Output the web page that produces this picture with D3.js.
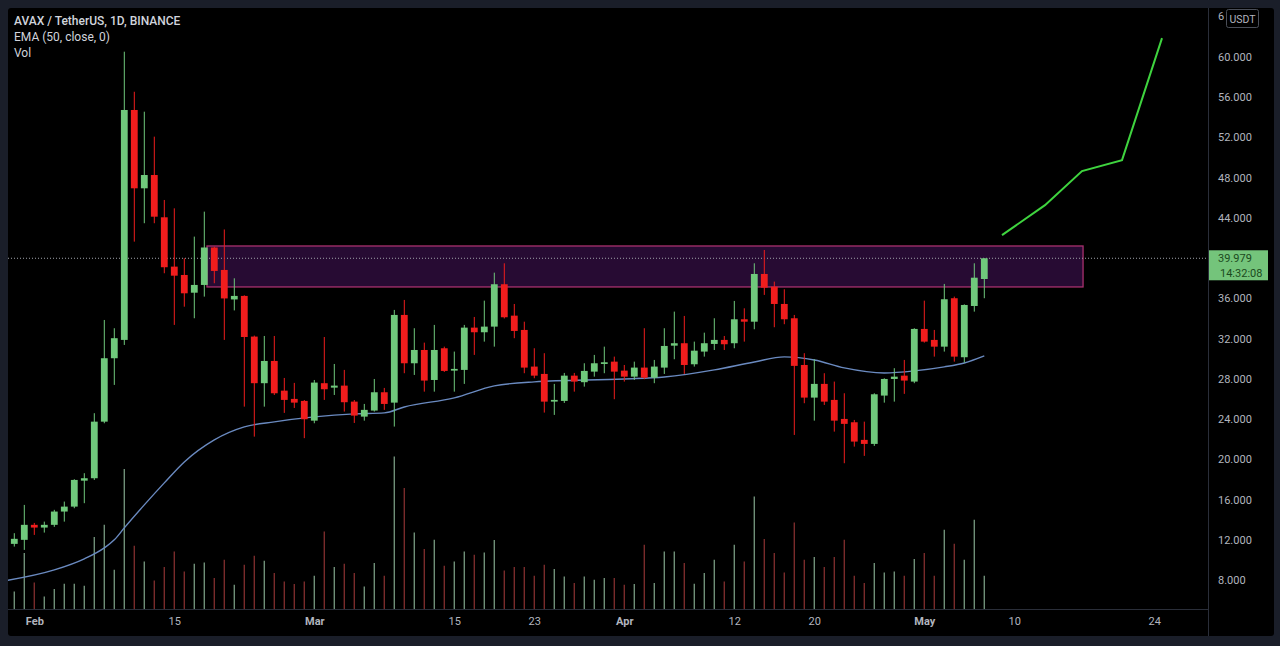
<!DOCTYPE html>
<html>
<head>
<meta charset="utf-8">
<script src="https://cdn.jsdelivr.net/npm/d3@7"></script>
<style>
  html, body { margin: 0; padding: 0; background: #1a1e29; }
  svg { display: block; }
</style>
</head>
<body>
<svg id="chart" width="1280" height="646"></svg>
<script>
// daily candles, AVAX/USDT
const dates = [
  '2021-01-29','2021-01-30','2021-01-31',
  '2021-02-01','2021-02-02','2021-02-03','2021-02-04','2021-02-05','2021-02-06','2021-02-07','2021-02-08','2021-02-09','2021-02-10',
  '2021-02-11','2021-02-12','2021-02-13','2021-02-14','2021-02-15','2021-02-16','2021-02-17','2021-02-18','2021-02-19','2021-02-20',
  '2021-02-21','2021-02-22','2021-02-23','2021-02-24','2021-02-25','2021-02-26','2021-02-27','2021-02-28',
  '2021-03-01','2021-03-02','2021-03-03','2021-03-04','2021-03-05','2021-03-06','2021-03-07','2021-03-08','2021-03-09','2021-03-10',
  '2021-03-11','2021-03-12','2021-03-13','2021-03-14','2021-03-15','2021-03-16','2021-03-17','2021-03-18','2021-03-19','2021-03-20',
  '2021-03-21','2021-03-22','2021-03-23','2021-03-24','2021-03-25','2021-03-26','2021-03-27','2021-03-28','2021-03-29','2021-03-30','2021-03-31',
  '2021-04-01','2021-04-02','2021-04-03','2021-04-04','2021-04-05','2021-04-06','2021-04-07','2021-04-08','2021-04-09','2021-04-10',
  '2021-04-11','2021-04-12','2021-04-13','2021-04-14','2021-04-15','2021-04-16','2021-04-17','2021-04-18','2021-04-19','2021-04-20',
  '2021-04-21','2021-04-22','2021-04-23','2021-04-24','2021-04-25','2021-04-26','2021-04-27','2021-04-28','2021-04-29','2021-04-30',
  '2021-05-01','2021-05-02','2021-05-03','2021-05-04','2021-05-05','2021-05-06','2021-05-07'
];
const opens = [
  12.00,11.61,12.01,
  13.50,13.23,13.50,14.82,15.31,17.89,18.13,23.75,30.05,31.87,
  54.71,46.93,48.25,44.05,39.15,38.32,36.56,37.33,41.05,38.82,
  35.89,36.24,32.20,27.57,29.78,26.83,26.01,25.81,
  23.85,27.57,27.13,27.33,25.74,24.25,24.85,26.67,25.64,34.35,
  29.55,30.87,27.89,31.04,28.82,28.89,33.09,32.63,33.19,37.40,
  34.28,32.86,29.22,28.49,25.74,25.81,28.32,27.67,28.72,29.48,29.71,
  28.82,28.22,29.12,28.12,29.12,31.30,31.54,29.45,30.71,31.47,
  31.87,31.54,33.92,33.68,38.42,37.16,35.44,34.02,29.38,26.14,
  27.50,25.91,24.02,23.69,21.94,21.54,26.34,27.99,28.32,27.73,
  32.96,31.87,31.20,36.01,30.15,35.24,37.92
];
const highs = [
  12.20,12.67,15.48,
  13.69,13.82,14.99,15.81,18.03,18.63,24.59,33.85,33.03,60.50,
  56.52,54.54,52.06,45.77,44.94,39.98,42.13,44.61,41.13,42.84,
  37.99,36.30,32.30,32.26,32.26,28.09,27.60,25.90,
  27.89,32.16,29.48,28.89,25.90,25.51,27.99,27.10,34.85,35.84,
  33.03,31.60,33.36,31.20,30.71,33.36,34.15,35.77,38.55,39.48,
  35.44,33.68,31.04,30.55,27.50,28.59,28.59,29.55,30.38,31.20,30.21,
  29.38,29.71,33.03,29.88,33.03,34.68,34.25,31.70,32.59,34.02,
  32.26,35.74,35.01,39.48,40.80,37.66,36.90,34.35,30.55,29.95,
  28.56,27.73,26.57,23.92,23.75,26.57,28.06,29.06,29.88,33.03,
  35.77,32.86,37.43,36.17,35.40,39.48,39.98
];
const lows = [
  11.60,11.34,11.01,
  12.50,12.73,13.30,13.82,15.15,15.65,17.96,23.59,27.40,31.37,
  41.63,43.46,43.46,38.49,33.36,35.17,34.02,36.17,37.50,31.87,
  34.80,25.24,22.26,25.24,26.40,24.62,25.11,22.11,
  23.59,25.91,26.40,24.75,23.62,23.85,24.75,24.92,23.26,28.56,
  28.39,26.73,26.73,28.69,26.73,27.50,30.38,31.70,31.20,34.00,
  32.04,28.56,28.06,24.65,24.42,25.61,26.73,27.23,28.22,28.56,25.98,
  27.73,27.89,27.96,27.57,28.49,29.95,28.49,29.22,30.21,30.87,
  30.87,31.04,31.70,32.93,36.34,33.13,33.43,22.43,25.58,23.85,
  25.41,22.76,19.62,21.27,20.35,21.34,25.64,25.74,26.51,27.57,
  31.60,30.21,30.71,29.71,29.61,34.68,36.01
];
const closes = [
  11.75,12.11,13.50,
  13.23,13.50,14.82,15.31,17.96,18.13,23.75,30.05,32.04,54.71,
  46.93,48.25,44.11,39.09,38.25,36.50,37.33,41.05,38.72,35.99,
  36.24,32.16,27.57,29.78,26.57,25.91,25.64,23.99,
  27.63,26.97,27.33,25.68,24.35,24.92,26.67,25.51,34.35,29.55,
  30.87,27.83,30.87,28.79,28.99,33.09,32.63,33.19,37.40,34.12,
  32.76,29.12,28.32,25.74,25.91,28.32,27.73,28.79,29.55,29.65,28.72,
  28.22,29.12,28.12,29.22,31.27,31.54,29.38,30.80,31.54,31.87,
  31.44,33.92,33.68,38.42,37.06,35.44,33.92,29.29,26.14,27.50,
  25.74,23.85,23.53,21.77,21.54,26.47,27.99,28.22,27.83,32.96,
  31.70,31.20,35.91,30.21,35.34,38.05,39.979
];
// volume, millions AVAX
const volumes = [
  1.0,1.76,5.6,
  2.66,1.26,2.0,2.53,2.53,2.33,7.2,8.43,3.93,14.0,
  6.33,4.76,2.86,4.2,5.76,3.76,4.53,4.66,3.1,4.93,
  2.43,4.43,5.33,4.83,3.6,2.76,2.5,2.76,
  3.33,7.76,4.2,4.53,3.6,2.26,4.6,3.33,15.26,12.1,
  7.66,6.0,6.93,4.33,4.76,5.76,5.43,5.66,6.9,3.86,
  4.2,4.2,3.33,4.43,4.0,3.26,2.6,3.26,2.93,3.1,3.1,
  2.43,2.5,6.43,2.6,5.76,5.76,4.6,2.53,3.6,4.93,
  2.76,6.43,4.76,11.26,7.0,5.6,3.66,8.66,4.93,5.2,
  4.2,5.2,6.93,3.33,2.6,4.6,3.66,3.76,3.33,5.0,
  5.6,3.33,7.93,6.53,4.93,8.93,3.33
];

// EMA (50, close)
const emaDates = ['2021-01-29','2021-02-03','2021-02-06','2021-02-08','2021-02-09','2021-02-10','2021-02-12','2021-02-14',
  '2021-02-16','2021-02-19','2021-02-22','2021-02-25','2021-03-01','2021-03-05','2021-03-08','2021-03-10','2021-03-15',
  '2021-03-19','2021-03-23','2021-04-01','2021-04-05','2021-04-10','2021-04-14','2021-04-17','2021-04-20','2021-04-23',
  '2021-04-27','2021-04-30','2021-05-03','2021-05-05','2021-05-07'];
const emaValues = [7.93,9.02,10.12,11.21,12.01,13.20,15.48,17.67,
  19.75,21.94,23.23,23.73,24.22,24.52,24.62,25.21,26.11,
  27.30,27.70,27.99,28.19,28.89,29.68,30.18,29.88,29.09,
  28.59,28.79,29.19,29.58,30.28];

// resistance zone and projected path
const zoneTimes = ['2021-02-18T06:30Z', '2021-05-16T21:00Z'];
const zonePrices = [37.13, 41.20];
const pathTimes = ['2021-05-08T18:30Z','2021-05-13T01:40Z','2021-05-16T18:30Z','2021-05-20T18:30Z','2021-05-24T18:30Z'];
const pathPrices = [42.28, 45.26, 48.64, 49.73, 61.85];

const lastPrice = 39.979;
const countdown = '14:32:08';

const timeRange = ['2021-01-29T08:53Z', '2021-05-29T08:53Z'];
const priceRange = [5.14, 64.84];
const priceTicks = [8, 12, 16, 20, 24, 28, 32, 36, 40, 44, 48, 52, 56, 60, 64];
const timeTicks = ['2021-02-01','2021-02-15','2021-03-01','2021-03-15','2021-03-23','2021-04-01',
  '2021-04-12','2021-04-20','2021-05-01','2021-05-10','2021-05-24'];
const timeTickLabels = ['Feb','15','Mar','15','23','Apr','12','20','May','10','24'];
const volumeMax = 16;

const paneLeft = 8;
const paneTop = 8;
const paneRight = 1208;
const paneBottom = 609;
const green = '#70c97c';
const red = '#f01d1d';

const parse = (s) => new Date(s.length === 10 ? s + 'T00:00Z' : s);

window.onload = function() {
     const candles = dates.map((d, i) => ({
          date: parse(d), open: opens[i], high: highs[i], low: lows[i], close: closes[i], volume: volumes[i]
     }));

     const x = d3.scaleUtc()
                 .domain(timeRange.map(parse))
                 .range([paneLeft, paneRight]);
     const y = d3.scaleLinear()
                 .domain(priceRange)
                 .range([paneBottom, paneTop]);
     const yVol = d3.scaleLinear()
                 .domain([0, volumeMax])
                 .range([paneBottom, paneBottom - 160]);

     const dayWidth = x(parse('2021-02-02')) - x(parse('2021-02-01'));
     const bodyWidth = dayWidth * 0.68;

     const svg = d3.select('#chart');

     // chart frame
     svg.append('rect')
          .attr('x', 8).attr('y', 8)
          .attr('width', 1266).attr('height', 628)
          .attr('rx', 3)
          .attr('fill', '#000');

     svg.append('defs').append('clipPath').attr('id', 'pane')
          .append('rect')
               .attr('x', paneLeft).attr('y', paneTop)
               .attr('width', paneRight - paneLeft).attr('height', paneBottom - paneTop);

     const pane = svg.append('g').attr('clip-path', 'url(#pane)');

     // volume
     pane.append('g').selectAll('line')
          .data(candles)
          .enter()
               .append('line')
                    .attr('x1', (d) => x(d.date))
                    .attr('x2', (d) => x(d.date))
                    .attr('y1', yVol(0))
                    .attr('y2', (d) => yVol(d.volume))
                    .attr('stroke', (d) => d.close >= d.open ? '#6f8f78' : '#7a2c2c')
                    .attr('stroke-width', 1.4);

     // resistance zone
     pane.append('rect')
          .attr('x', x(parse(zoneTimes[0])))
          .attr('y', y(zonePrices[1]))
          .attr('width', x(parse(zoneTimes[1])) - x(parse(zoneTimes[0])))
          .attr('height', y(zonePrices[0]) - y(zonePrices[1]))
          .attr('fill', '#270b33')
          .attr('stroke', '#a8306e')
          .attr('stroke-width', 1.3);

     // last price line
     pane.append('line')
          .attr('x1', paneLeft).attr('x2', paneRight)
          .attr('y1', y(lastPrice)).attr('y2', y(lastPrice))
          .attr('stroke', '#a0a3ab')
          .attr('stroke-width', 1)
          .attr('stroke-dasharray', '1,2');

     // ema
     const emaLine = d3.line()
          .x((d) => x(d.date))
          .y((d) => y(d.value))
          .curve(d3.curveMonotoneX);
     pane.append('path')
          .datum(emaDates.map((d, i) => ({ date: parse(d), value: emaValues[i] })))
          .attr('d', emaLine)
          .attr('fill', 'none')
          .attr('stroke', '#6a8ac0')
          .attr('stroke-width', 1.4);

     // candles
     const candle = pane.append('g').selectAll('g')
          .data(candles)
          .enter()
               .append('g')
                    .attr('fill', (d) => d.close >= d.open ? green : red)
                    .attr('stroke', (d) => d.close >= d.open ? green : red);
     candle.append('line')
          .attr('x1', (d) => x(d.date))
          .attr('x2', (d) => x(d.date))
          .attr('y1', (d) => y(d.high))
          .attr('y2', (d) => y(d.low))
          .attr('stroke-width', 1);
     candle.append('rect')
          .attr('x', (d) => x(d.date) - bodyWidth / 2)
          .attr('y', (d) => y(Math.max(d.open, d.close)))
          .attr('width', bodyWidth)
          .attr('height', (d) => Math.max(1, Math.abs(y(d.open) - y(d.close))))
          .attr('stroke', 'none');

     // projected path
     pane.append('path')
          .datum(pathTimes.map((d, i) => ({ date: parse(d), value: pathPrices[i] })))
          .attr('d', d3.line().x((d) => x(d.date)).y((d) => y(d.value)))
          .attr('fill', 'none')
          .attr('stroke', '#3fd43f')
          .attr('stroke-width', 2);

     // separators
     svg.append('line')
          .attr('x1', paneRight + 0.5).attr('x2', paneRight + 0.5)
          .attr('y1', 8).attr('y2', 636)
          .attr('stroke', '#2a2e39');
     svg.append('line')
          .attr('x1', 8).attr('x2', paneRight)
          .attr('y1', paneBottom + 0.5).attr('y2', paneBottom + 0.5)
          .attr('stroke', '#2a2e39');

     // price axis; the top label is hidden behind the USDT badge except its first digit
     const topTick = d3.max(priceTicks);
     const yAxis = svg.append('g')
          .attr('transform', `translate(${paneRight}, 0)`)
          .call(d3.axisRight(y)
               .tickValues(priceTicks)
               .tickFormat((d) => d === topTick ? String(d).charAt(0) : d3.format('.3f')(d))
               .tickSize(0)
               .tickPadding(10));
     yAxis.select('.domain').remove();
     yAxis.selectAll('text')
          .attr('fill', '#b2b5be')
          .attr('font-family', 'Roboto, sans-serif')
          .attr('font-size', 11);

     // time axis
     const xAxis = svg.append('g')
          .attr('transform', `translate(0, ${paneBottom})`)
          .call(d3.axisBottom(x)
               .tickValues(timeTicks.map(parse))
               .tickFormat((d, i) => timeTickLabels[i])
               .tickSize(0)
               .tickPadding(8));
     xAxis.select('.domain').remove();
     xAxis.selectAll('text')
          .attr('fill', '#b2b5be')
          .attr('font-family', 'Roboto, sans-serif')
          .attr('font-size', 11)
          .attr('font-weight', (d, i) => isNaN(+timeTickLabels[i]) ? 'bold' : 'normal');

     // currency badge
     svg.append('rect')
          .attr('x', 1226.5).attr('y', 9.5)
          .attr('width', 32).attr('height', 18)
          .attr('rx', 2)
          .attr('fill', '#000')
          .attr('stroke', '#4a4e58');
     svg.append('text')
          .attr('x', 1242.5).attr('y', 22.5)
          .attr('text-anchor', 'middle')
          .attr('fill', '#b2b5be')
          .attr('font-family', 'Roboto, sans-serif')
          .attr('font-size', 10.5)
          .text('USDT');

     // last price label
     svg.append('rect')
          .attr('x', paneRight + 1).attr('y', y(lastPrice) - 8)
          .attr('width', 59).attr('height', 30)
          .attr('fill', '#74c47b');
     svg.append('text')
          .attr('x', paneRight + 10).attr('y', y(lastPrice) + 4)
          .attr('fill', '#1b4a20')
          .attr('font-family', 'Roboto, sans-serif')
          .attr('font-size', 11)
          .text(d3.format('.3f')(lastPrice));
     svg.append('text')
          .attr('x', paneRight + 12).attr('y', y(lastPrice) + 19)
          .attr('fill', '#1b4a20')
          .attr('font-family', 'Roboto, sans-serif')
          .attr('font-size', 11)
          .text(countdown);

     // legend
     const legend = ['AVAX / TetherUS, 1D, BINANCE', 'EMA (50, close, 0)', 'Vol'];
     svg.append('g').selectAll('text')
          .data(legend)
          .enter()
               .append('text')
                    .attr('x', 14)
                    .attr('y', (d, i) => 25 + i * 16)
                    .attr('fill', '#d1d4dc')
                    .attr('font-family', 'Roboto, sans-serif')
                    .attr('font-size', 12)
                    .attr('font-weight', (d, i) => i === 0 ? 500 : 400)
                    .text((d) => d);
};
</script>
</body>
</html>
